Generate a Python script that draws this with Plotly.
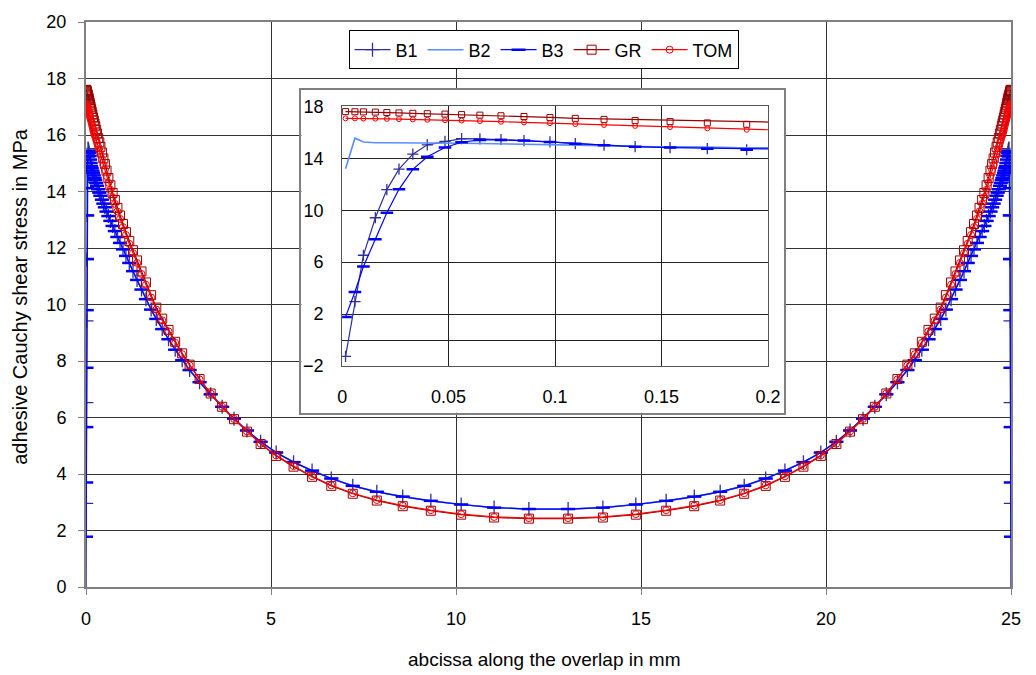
import plotly.graph_objects as go

# ---------------- data ----------------
OVERLAP = 25.0  # overlap length in mm (right half mirrors the left half)

# abscissae of the mesh nodes on the left half (mm)
x_inset = [0.0016, 0.006, 0.010, 0.0156, 0.021, 0.0267, 0.0332, 0.040, 0.0483, 0.0561,
           0.0647, 0.0746, 0.0854, 0.0976, 0.1095, 0.123, 0.1376, 0.154, 0.1715, 0.19]
x_outer = [0.21, 0.23, 0.25, 0.275, 0.30, 0.33, 0.36, 0.39, 0.43, 0.47,
           0.51, 0.555, 0.605, 0.66, 0.72, 0.78, 0.85, 0.92, 1.0, 1.08,
           1.17, 1.27, 1.38, 1.5, 1.62, 1.76, 1.9, 2.06, 2.23, 2.41,
           2.6, 2.8, 3.07, 3.37, 3.68, 4.0, 4.35, 4.72, 5.14, 5.61,
           6.11, 6.63, 7.21, 7.86, 8.56, 9.32, 10.14, 11.03, 11.97]

# stresses near the edge (MPa), at x_inset
b1_head = [-1.26, 2.96, 6.53, 9.42, 11.59, 13.17, 14.32, 15.04, 15.3, 15.52,
           15.5, 15.45, 15.37, 15.26, 15.13, 15.01, 14.9, 14.83, 14.74, 14.66]
b2_head = [13.2, 15.55, 15.26, 15.2, 15.2, 15.2, 15.2, 15.19, 15.18, 15.16,
           15.14, 15.12, 15.1, 15.07, 15.03, 14.98, 14.91, 14.83, 14.74, 14.66]
b3_head = [1.78, 3.7, 5.66, 7.76, 9.8, 11.61, 13.15, 14.12, 14.83, 15.24,
           15.42, 15.42, 15.37, 15.26, 15.13, 15.01, 14.9, 14.83, 14.74, 14.66]
gr_head = [17.6, 17.59, 17.58, 17.56, 17.53, 17.5, 17.47, 17.44, 17.41, 17.37,
           17.33, 17.28, 17.22, 17.15, 17.08, 17.0, 16.92, 16.83, 16.73, 16.62]
tom_head = [17.08, 17.08, 17.07, 17.06, 17.04, 17.02, 17.0, 16.97, 16.94, 16.91,
            16.87, 16.82, 16.77, 16.71, 16.64, 16.57, 16.5, 16.41, 16.31, 16.2]

# stresses further along the overlap (MPa), at x_outer
b_outer = [14.57, 14.48, 14.4, 14.3, 14.2, 14.08, 13.96, 13.85, 13.71, 13.57,
           13.44, 13.29, 13.13, 12.96, 12.78, 12.6, 12.39, 12.18, 11.95, 11.72,
           11.47, 11.18, 10.87, 10.53, 10.19, 9.82, 9.49, 9.13, 8.77, 8.4,
           8.03, 7.68, 7.25, 6.82, 6.38, 5.96, 5.54, 5.14, 4.76, 4.42,
           4.12, 3.84, 3.58, 3.37, 3.2, 3.05, 2.92, 2.81, 2.76]
gr_outer = [16.52, 16.41, 16.31, 16.18, 16.05, 15.89, 15.74, 15.58, 15.38, 15.17,
            14.97, 14.74, 14.48, 14.22, 13.95, 13.7, 13.42, 13.15, 12.85, 12.56,
            12.25, 11.92, 11.56, 11.17, 10.78, 10.33, 9.89, 9.5, 9.1, 8.68,
            8.27, 7.87, 7.36, 6.85, 6.38, 5.94, 5.5, 5.06, 4.64, 4.26,
            3.9, 3.58, 3.3, 3.06, 2.86, 2.7, 2.56, 2.46, 2.42]
tom_outer = [16.11, 16.02, 15.94, 15.83, 15.72, 15.58, 15.45, 15.31, 15.13, 14.94,
             14.76, 14.55, 14.31, 14.06, 13.8, 13.56, 13.29, 13.03, 12.74, 12.46,
             12.15, 11.82, 11.47, 11.08, 10.7, 10.25, 9.82, 9.44, 9.05, 8.64,
             8.24, 7.85, 7.35, 6.85, 6.38, 5.95, 5.51, 5.07, 4.66, 4.28,
             3.92, 3.6, 3.32, 3.08, 2.88, 2.72, 2.58, 2.48, 2.44]

series_names = ["B1", "B2", "B3", "GR", "TOM"]
x_ticks_main = [0, 5, 10, 15, 20, 25]
y_ticks_inset = [-2, 2, 6, 10, 14, 18]
x_ticks_inset = [0, 0.05, 0.1, 0.15, 0.2]
x_ticktext_inset = ["0", "0.05", "0.1", "0.15", "0.2"]


def full_span(head, outer):
    xh = x_inset + x_outer
    yh = head + outer
    xs = xh + [OVERLAP - v for v in reversed(xh)]
    ys = yh + list(reversed(yh))
    return xs, ys


data = {
    "B1": full_span(b1_head, b_outer),
    "B2": full_span(b2_head, b_outer),
    "B3": full_span(b3_head, b_outer),
    "GR": full_span(gr_head, gr_outer),
    "TOM": full_span(tom_head, tom_outer),
}

style = {
    "B1": dict(color="#2E2E9E", symbol="cross-thin", ms=10, ms_in=8, mlw=1.3, lw=1.2, markers=True),
    "B2": dict(color="#5B8CFF", symbol="circle", ms=0, ms_in=0, mlw=0, lw=1.6, markers=False),
    "B3": dict(color="#0000FF", symbol="line-ew", ms=10, ms_in=9, mlw=2.5, lw=1.2, markers=True),
    "GR": dict(color="#990000", symbol="square-open", ms=9, ms_in=6, mlw=1, lw=1.2, markers=True),
    "TOM": dict(color="#FF0000", symbol="circle-open", ms=7, ms_in=5, mlw=1, lw=1.2, markers=True),
}

FONT = "Liberation Sans, Arial, sans-serif"
fig = go.Figure()

# main chart traces
for name in series_names:
    xs, ys = data[name]
    s = style[name]
    mode = "lines+markers" if s["markers"] else "lines"
    fig.add_trace(go.Scatter(
        x=xs, y=ys, name=name, mode=mode,
        line=dict(color=s["color"], width=s["lw"]),
        marker=dict(symbol=s["symbol"], size=s["ms"], color=s["color"],
                    line=dict(color=s["color"], width=s["mlw"])),
        xaxis="x", yaxis="y", showlegend=True,
    ))

# white box behind the inset (its own subplot so it hides the main chart)
fig.add_trace(go.Scatter(x=[], y=[], xaxis="x2", yaxis="y2", showlegend=False,
                         hoverinfo="skip"))

# inset traces
for name in series_names:
    xs, ys = data[name]
    s = style[name]
    mode = "lines+markers" if s["markers"] else "lines"
    fig.add_trace(go.Scatter(
        x=xs, y=ys, name=name, mode=mode,
        line=dict(color=s["color"], width=s["lw"]),
        marker=dict(symbol=s["symbol"], size=s["ms_in"], color=s["color"],
                    line=dict(color=s["color"], width=s["mlw"])),
        xaxis="x3", yaxis="y3", showlegend=False,
    ))

GRID = "#333333"
fig.update_layout(
    width=1036, height=675,
    margin=dict(l=86, r=24, t=19, b=88),
    paper_bgcolor="white", plot_bgcolor="white",
    font=dict(family=FONT, size=18, color="black"),
    showlegend=True,
    legend=dict(orientation="h", x=0.4946, xanchor="center", y=0.985, yanchor="top",
                bgcolor="white", bordercolor="black", borderwidth=1,
                font=dict(size=18, family=FONT), itemwidth=36,
                tracegroupgap=0),
    xaxis=dict(domain=[0, 1], range=[0, 25], tickvals=x_ticks_main,
               showgrid=True, gridcolor=GRID, gridwidth=1, zeroline=False,
               showline=True, linecolor="#808080", linewidth=2, mirror=True,
               ticks="outside", ticklen=6, tickcolor="#808080",
               ticklabelstandoff=8, tickfont=dict(size=18), anchor="y"),
    yaxis=dict(domain=[0, 1], range=[0, 20], dtick=2, tick0=0,
               showgrid=True, gridcolor=GRID, gridwidth=1, zeroline=False,
               showline=True, linecolor="#808080", linewidth=2, mirror=True,
               ticks="outside", ticklen=6, tickcolor="#808080",
               ticklabelstandoff=8, tickfont=dict(size=18), anchor="x"),
    xaxis2=dict(domain=[0.2329, 0.7545], range=[0, 1], anchor="y2",
                showgrid=False, zeroline=False, showticklabels=False, ticks="",
                showline=True, linecolor="#808080", linewidth=1.5, mirror=True,
                fixedrange=True),
    yaxis2=dict(domain=[0.3085, 0.8805], range=[0, 1], anchor="x2",
                showgrid=False, zeroline=False, showticklabels=False, ticks="",
                showline=True, linecolor="#808080", linewidth=1.5, mirror=True,
                fixedrange=True),
    xaxis3=dict(domain=[0.2769, 0.7373], range=[0, 0.2], anchor="y3",
                tickvals=x_ticks_inset, ticktext=x_ticktext_inset,
                showgrid=True, gridcolor="#222222", gridwidth=1, zeroline=False,
                showline=True, linecolor="#555555", linewidth=1, mirror=True,
                ticks="", ticklabelstandoff=14, tickfont=dict(size=18)),
    yaxis3=dict(domain=[0.3912, 0.8506], range=[-2, 18], anchor="x3",
                tickvals=y_ticks_inset,
                showgrid=True, gridcolor="#222222", gridwidth=1,
                zeroline=True, zerolinecolor="#222222", zerolinewidth=1,
                showline=True, linecolor="#555555", linewidth=1, mirror=True,
                ticks="", ticklabelstandoff=14, tickfont=dict(size=18)),
    annotations=[
        dict(text="abcissa along the overlap in mm", xref="paper", yref="paper",
             x=0.495, y=-0.128, xanchor="center", yanchor="middle",
             showarrow=False, font=dict(size=19)),
        dict(text="adhesive Cauchy shear stress in MPa", xref="paper", yref="paper",
             x=-0.0716, y=0.515, xanchor="center", yanchor="middle", textangle=-90,
             showarrow=False, font=dict(size=20)),
    ],
)

fig.write_html("out.html",
               config={"displayModeBar": False},
               post_script="document.body.style.margin='0';document.body.style.padding='0';")
